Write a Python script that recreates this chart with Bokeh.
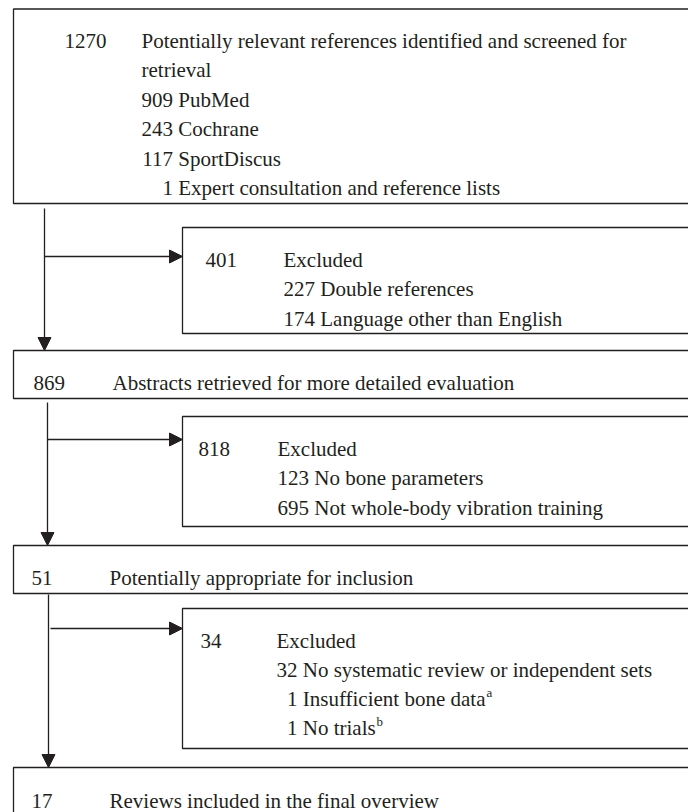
from bokeh.plotting import figure
from bokeh.models import Range1d, ColumnDataSource, Arrow, NormalHead
from bokeh.core.properties import value
from bokeh.embed import file_html
from bokeh.resources import INLINE

# ---------------- data ----------------
stage_counts = [1270, 869, 51, 17]
stage_labels = [
    ["Potentially relevant references identified and screened for", "retrieval"],
    ["Abstracts retrieved for more detailed evaluation"],
    ["Potentially appropriate for inclusion"],
    ["Reviews included in the final overview"],
]
source_counts = [909, 243, 117, 1]
source_names = ["PubMed", "Cochrane", "SportDiscus", "Expert consultation and reference lists"]

excluded_totals = [401, 818, 34]
excluded_title = "Excluded"
excluded_counts = [[227, 174], [123, 695], [32, 1, 1]]
excluded_reasons = [
    ["Double references", "Language other than English"],
    ["No bone parameters", "Not whole-body vibration training"],
    ["No systematic review or independent sets", "Insufficient bone data", "No trials"],
]
excluded_notes = [["", ""], ["", ""], ["", "a", "b"]]

# ---------------- layout / style ----------------
INK = "#231f20"
FONT = value("Liberation Serif")
FS = 21
LINE = 29.5
W, H = 688, 812
RIGHT = 760  # boxes run off the right edge

stage_box_left = 13
stage_top = [8.5, 350, 545, 767]
stage_bottom = [203, 398, 593, 840]
stage_count_x = [64, 33, 31, 31]
stage_label_x = [141, 112, 109, 109]
stage_base = [40, 382, 577, 800]

excl_box_left = 182
excl_top = [227, 416, 608]
excl_bottom = [333, 526, 748]
excl_count_x = [205, 198, 200]
excl_label_x = [283, 277, 276]
excl_base = [259, 448, 640]
excl_gap = [29.5, 29.5, 29]
note_x = [[None, None], [None, None], [None, 486, 376]]

spine_x = [44, 47, 48]
spine_y0 = [208, 402, 594]
branch_y = [256, 439, 628]
branch_x0 = [44, 47, 50]

p = figure(width=W, height=H, x_range=Range1d(0, W), y_range=Range1d(H, 0),
           output_backend="svg", toolbar_location=None, min_border=0)
p.axis.visible = False
p.grid.visible = False
p.outline_line_color = None
p.background_fill_color = "white"
p.border_fill_color = "white"

# boxes
bl, br, bt, bb = [], [], [], []
for i in range(len(stage_counts)):
    bl.append(stage_box_left); br.append(RIGHT); bt.append(stage_top[i]); bb.append(stage_bottom[i])
for i in range(len(excluded_totals)):
    bl.append(excl_box_left); br.append(RIGHT); bt.append(excl_top[i]); bb.append(excl_bottom[i])
p.quad(left=bl, right=br, top=bt, bottom=bb, fill_color=None, line_color=INK, line_width=1.3)

# texts (left aligned)
tx, ty, tt = [], [], []
rx, ry, rt = [], [], []  # right aligned counts
for i, c in enumerate(stage_counts):
    tx.append(stage_count_x[i]); ty.append(stage_base[i]); tt.append(str(c))
    for j, lab in enumerate(stage_labels[i]):
        tx.append(stage_label_x[i]); ty.append(stage_base[i] + j * LINE); tt.append(lab)
# sources in first box
nd = max(len(str(v)) for v in source_counts)
cend = stage_label_x[0] + nd * 0.5 * FS
for j, (c, n) in enumerate(zip(source_counts, source_names)):
    yy = stage_base[0] + (len(stage_labels[0]) + j) * LINE
    rx.append(cend); ry.append(yy); rt.append(str(c))
    tx.append(cend + 0.25 * FS); ty.append(yy); tt.append(n)

sx, sy, st = [], [], []
for i, tot in enumerate(excluded_totals):
    tx.append(excl_count_x[i]); ty.append(excl_base[i]); tt.append(str(tot))
    tx.append(excl_label_x[i]); ty.append(excl_base[i]); tt.append(excluded_title)
    nd = max(len(str(v)) for v in excluded_counts[i])
    cend = excl_label_x[i] + nd * 0.5 * FS
    for j, (c, r) in enumerate(zip(excluded_counts[i], excluded_reasons[i])):
        yy = excl_base[i] + (j + 1) * excl_gap[i]
        rx.append(cend); ry.append(yy); rt.append(str(c))
        tx.append(cend + 0.25 * FS); ty.append(yy); tt.append(r)
        if excluded_notes[i][j]:
            sx.append(note_x[i][j]); sy.append(yy - 6); st.append(excluded_notes[i][j])

common = dict(text_font=FONT, text_color=INK, text_baseline="alphabetic")
p.text(x=tx, y=ty, text=tt, text_align="left", text_font_size=f"{FS}px", **common)
p.text(x=rx, y=ry, text=rt, text_align="right", text_font_size=f"{FS}px", **common)
p.text(x=sx, y=sy, text=st, text_align="left", text_font_size="13px", **common)

# arrows
ax0, ay0, ax1, ay1 = [], [], [], []
for i in range(3):
    ax0.append(spine_x[i]); ay0.append(spine_y0[i]); ax1.append(spine_x[i]); ay1.append(stage_top[i + 1])
    ax0.append(branch_x0[i]); ay0.append(branch_y[i]); ax1.append(excl_box_left); ay1.append(branch_y[i])
src = ColumnDataSource(dict(x0=ax0, y0=ay0, x1=ax1, y1=ay1))
p.add_layout(Arrow(x_start="x0", y_start="y0", x_end="x1", y_end="y1", source=src,
                   line_color=INK, line_width=1.3,
                   end=NormalHead(size=13, fill_color=INK, line_color=INK, line_width=1)))

open("out.html", "w").write(file_html(p, INLINE))
